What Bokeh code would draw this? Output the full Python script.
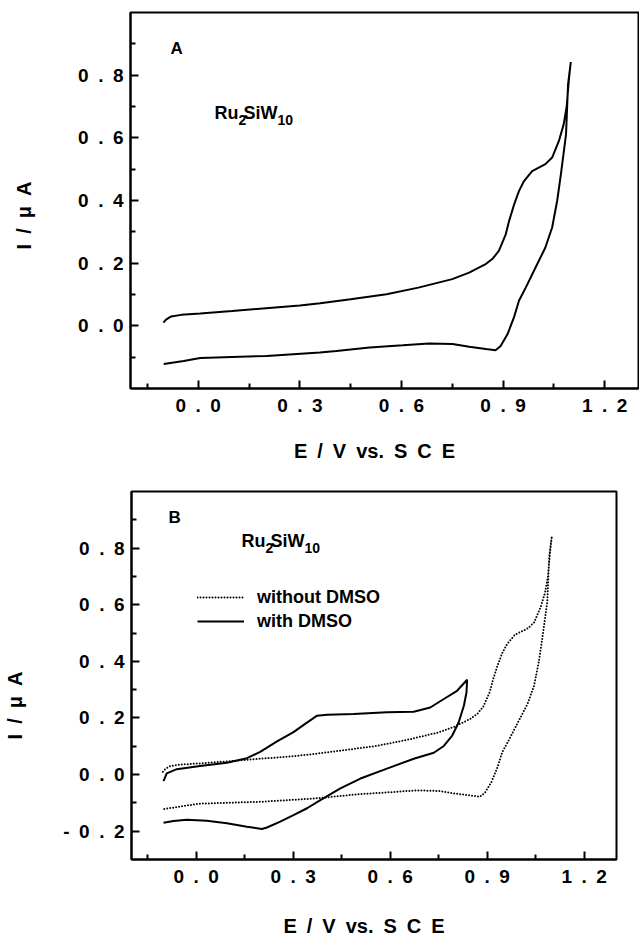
import math
from bokeh.plotting import figure
from bokeh.models import Range1d, FixedTicker, Label, Legend, LegendItem
from bokeh.embed import file_html
from bokeh.resources import INLINE

FONT = "Liberation Sans"
SP = "\u2002"   # en space
EM = "\u2003"   # em space

# ---- data: cyclic voltammograms (E in V vs SCE, I in uA) ----
# Ru2SiW10 without DMSO (forward then reverse scan)
E_without = [-0.103, -0.095, -0.080, -0.050, 0.006, 0.10, 0.20, 0.30, 0.36, 0.45,
             0.556, 0.65, 0.75, 0.80, 0.85, 0.870, 0.888, 0.908, 0.918, 0.932,
             0.947, 0.962, 0.986, 1.025, 1.045, 1.065, 1.079, 1.088, 1.094, 1.100,
             1.092, 1.086, 1.071, 1.060, 1.045, 1.025, 0.996, 0.967, 0.947, 0.932,
             0.913, 0.893, 0.878, 0.849, 0.800, 0.751, 0.682, 0.604, 0.506, 0.408,
             0.359, 0.202, 0.006, -0.043, -0.102]
I_without = [0.010, 0.020, 0.030, 0.035, 0.039, 0.047, 0.056, 0.065, 0.072, 0.085,
             0.101, 0.122, 0.149, 0.170, 0.198, 0.215, 0.240, 0.292, 0.335, 0.385,
             0.430, 0.462, 0.494, 0.516, 0.537, 0.590, 0.643, 0.700, 0.780, 0.842,
             0.771, 0.611, 0.485, 0.400, 0.314, 0.250, 0.186, 0.122, 0.080, 0.026,
             -0.027, -0.064, -0.078, -0.074, -0.067, -0.058, -0.056, -0.062, -0.069, -0.080,
             -0.085, -0.096, -0.103, -0.112, -0.122]

# Ru2SiW10 with DMSO (forward then reverse scan)
E_with = [-0.101, -0.091, -0.060, 0.012, 0.095, 0.157, 0.198, 0.250, 0.301, 0.337,
          0.374, 0.405, 0.487, 0.590, 0.673, 0.724, 0.766, 0.807, 0.838,
          0.836, 0.828, 0.812, 0.792, 0.766, 0.735, 0.673, 0.590, 0.508, 0.446,
          0.384, 0.343, 0.301, 0.260, 0.219, 0.203, 0.157, 0.095, 0.033, -0.029,
          -0.070, -0.101]
I_with = [-0.023, 0.004, 0.019, 0.030, 0.042, 0.058, 0.080, 0.117, 0.150, 0.179,
          0.208, 0.211, 0.214, 0.220, 0.222, 0.237, 0.267, 0.296, 0.335,
          0.290, 0.243, 0.185, 0.138, 0.101, 0.077, 0.056, 0.021, -0.014, -0.049,
          -0.090, -0.119, -0.143, -0.166, -0.187, -0.192, -0.184, -0.172, -0.163, -0.160,
          -0.164, -0.170]

# ---- ticks ----
x_ticks = [0.0, 0.3, 0.6, 0.9, 1.2]
x_tick_labels = ["0 . 0", "0 . 3", "0 . 6", "0 . 9", "1 . 2"]
x_minor = [-0.15, 0.15, 0.45, 0.75, 1.05]

yA_ticks = [0.0, 0.2, 0.4, 0.6, 0.8]
yA_tick_labels = ["0 . 0", "0 . 2", "0 . 4", "0 . 6", "0 . 8"]
yA_minor = [-0.1, 0.1, 0.3, 0.5, 0.7, 0.9]

yB_ticks = [-0.2, 0.0, 0.2, 0.4, 0.6, 0.8]
yB_tick_labels = ["- 0 . 2", "0 . 0", "0 . 2", "0 . 4", "0 . 6", "0 . 8"]
yB_minor = [-0.1, 0.1, 0.3, 0.5, 0.7, 0.9]

x_title = "E / V vs. S C E"
y_title = "I / \u03bc A"
compound = ["Ru", "2", "SiW", "10"]
legend_labels = ["without DMSO", "with DMSO"]


def spaced(s):
    return s.replace(" ", SP)


def style(p, yt, ytl, ym):
    p.grid.visible = False
    p.outline_line_color = "black"
    p.outline_line_width = 2
    p.outline_line_alpha = 1
    p.background_fill_color = "white"
    p.border_fill_color = "white"
    p.xaxis.ticker = FixedTicker(ticks=x_ticks, minor_ticks=x_minor)
    p.yaxis.ticker = FixedTicker(ticks=yt, minor_ticks=ym)
    p.xaxis.major_label_overrides = {t: spaced(l) for t, l in zip(x_ticks, x_tick_labels)}
    p.yaxis.major_label_overrides = {t: spaced(l) for t, l in zip(yt, ytl)}
    for ax in p.axis:
        ax.axis_line_width = 2
        ax.axis_line_color = "black"
        ax.major_tick_in = 8
        ax.major_tick_out = 0
        ax.minor_tick_in = 5
        ax.minor_tick_out = 0
        ax.major_tick_line_width = 2
        ax.minor_tick_line_width = 2
        ax.major_tick_line_color = "black"
        ax.minor_tick_line_color = "black"
        ax.major_label_text_font = FONT
        ax.major_label_text_font_style = "bold"
        ax.major_label_text_font_size = "19px"
        ax.major_label_text_color = "black"
        ax.axis_label_text_font = FONT
        ax.axis_label_text_font_style = "bold"
        ax.axis_label_text_color = "black"
    p.xaxis.major_label_standoff = 6
    p.yaxis.major_label_standoff = 7
    p.xaxis.axis_label_text_font_size = "20px"
    p.yaxis.axis_label_text_font_size = "20px"


def lab(p, text, x, y, size):
    p.add_layout(Label(x=x, y=y, x_units="screen", y_units="screen", text=text,
                       text_font=FONT, text_font_style="bold",
                       text_font_size=f"{size}px", text_color="black",
                       text_align="left", text_baseline="alphabetic"))


def compound_label(p, x, y):
    lab(p, compound[0], x, y, 18)
    lab(p, compound[1], x + 24, y - 7, 14)
    lab(p, compound[2], x + 29, y, 18)
    lab(p, compound[3], x + 63, y - 7, 14)


# ---- panel A ----
p1 = figure(width=639, height=465, x_range=Range1d(-0.2, 1.3), y_range=Range1d(-0.2, 1.0),
            output_backend="svg", toolbar_location=None,
            min_border_left=130, min_border_right=1, min_border_top=12, min_border_bottom=77)
style(p1, yA_ticks, yA_tick_labels, yA_minor)
p1.line(E_without, I_without, line_color="black", line_width=2)
lab(p1, "A", 40, 340, 17)
compound_label(p1, 84, 276)
p1.xaxis.axis_label = spaced(x_title) + SP + SP
p1.xaxis.axis_label_standoff = 21
p1.yaxis.axis_label = spaced(y_title) + SP + SP + SP
p1.yaxis.axis_label_standoff = 40

# ---- panel B ----
p2 = figure(width=639, height=474, x_range=Range1d(-0.2, 1.3), y_range=Range1d(-0.3, 1.0),
            output_backend="svg", toolbar_location=None,
            min_border_left=131, min_border_right=23, min_border_top=26, min_border_bottom=77)
style(p2, yB_ticks, yB_tick_labels, yB_minor)
r_dot = p2.line(E_without, I_without, line_color="black", line_width=2,
                line_dash="0 3", line_cap="round")
r_sol = p2.line(E_with, I_with, line_color="black", line_width=2)
lab(p2, "B", 37, 342, 17)
compound_label(p2, 110, 319)
p2.xaxis.axis_label = spaced(x_title) + SP + SP
p2.xaxis.axis_label_standoff = 25
p2.yaxis.axis_label = spaced(y_title) + EM + EM + EM
p2.yaxis.axis_label_standoff = 34

legend = Legend(items=[LegendItem(label=legend_labels[0], renderers=[r_dot]),
                       LegendItem(label=legend_labels[1], renderers=[r_sol])],
                location=(66, 226), padding=0, margin=0, spacing=0,
                glyph_width=47, glyph_height=24, label_standoff=13,
                label_text_font=FONT, label_text_font_style="bold",
                label_text_font_size="18px", label_text_color="black",
                label_height=24, border_line_alpha=0, background_fill_alpha=0)
p2.add_layout(legend)

open("out.html", "w").write(file_html([p1, p2], INLINE))
